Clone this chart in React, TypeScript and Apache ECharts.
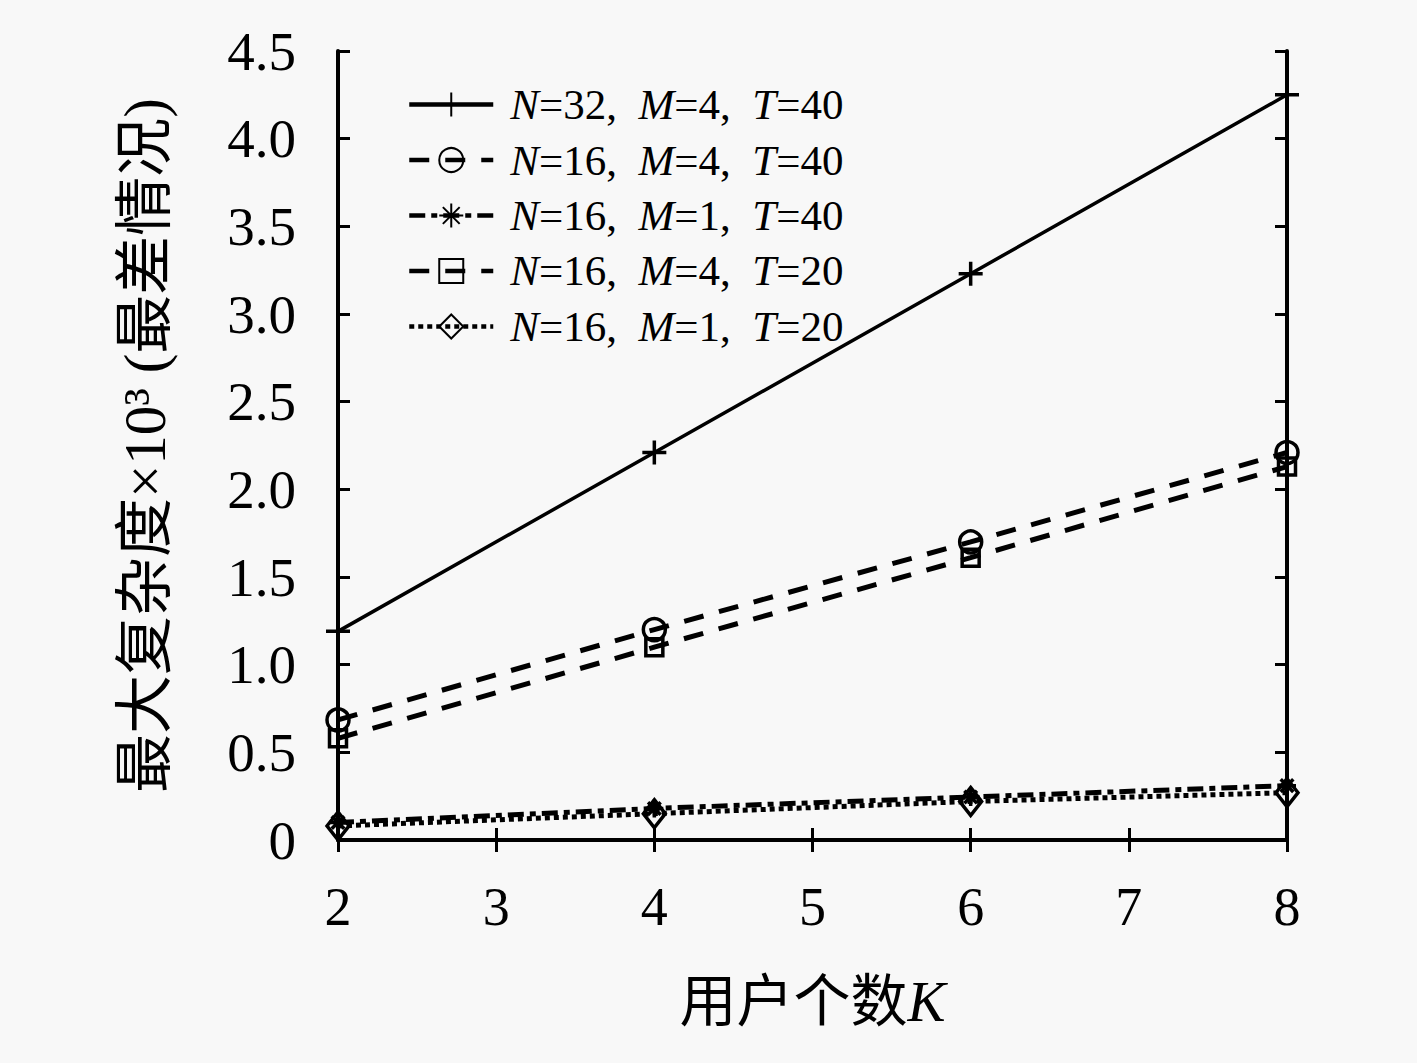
import React, { useEffect, useRef } from "react";
import * as echarts from "echarts";

const users = [2, 4, 6, 8];
const xTicks = [2, 3, 4, 5, 6, 7, 8];
const yTickLabels = ["0", "0.5", "1.0", "1.5", "2.0", "2.5", "3.0", "3.5", "4.0", "4.5"];

const seriesNames = [
  "N=32,  M=4,  T=40",
  "N=16,  M=4,  T=40",
  "N=16,  M=1,  T=40",
  "N=16,  M=4,  T=20",
  "N=16,  M=1,  T=20",
];

const s1 = [1.19, 2.21, 3.23, 4.25];
const s2 = [0.685, 1.2, 1.7, 2.21];
const s3 = [0.1, 0.18, 0.245, 0.31];
const s4 = [0.58, 1.1, 1.61, 2.13];
const s5 = [0.08, 0.15, 0.22, 0.27];

const PLUS = "path://M0,5L10,5M5,0L5,10";
const STAR = "path://M0,5L10,5M5,0L5,10M1.5,1.5L8.5,8.5M1.5,8.5L8.5,1.5";

const SERIF = '"Liberation Serif", "DejaVu Serif", "Noto Sans CJK SC", serif';

function mk(name: string, vals: number[], dash: any, width: number, symbol: string, size: number | number[], z: number) {
  return {
    type: "line",
    name,
    data: users.map((k, i) => [k, vals[i]]),
    symbol,
    symbolSize: size,
    showSymbol: true,
    z,
    color: "#000",
    lineStyle: { color: "#000", width, type: dash },
    itemStyle: { color: "none", borderColor: "#000", borderWidth: 3.5 },
    emphasis: { disabled: true },
  };
}

export default function App() {
  const ref = useRef<HTMLDivElement>(null);
  useEffect(() => {
    document.body.style.margin = "0";
    const chart = echarts.init(ref.current!, null, { renderer: "svg" });
    const axisLine = { show: true, lineStyle: { color: "#000", width: 4 } };
    const tick = { show: true, inside: true, length: 12, lineStyle: { color: "#000", width: 3 } };
    chart.setOption({
      animation: false,
      backgroundColor: "#f8f8f8",
      grid: { left: 338, right: 130, top: 51, bottom: 223 },
      legend: {
        left: 402,
        top: 78,
        orient: "vertical",
        itemWidth: 84,
        itemHeight: 30,
        itemGap: 12.5,
        data: seriesNames,
        lineStyle: { width: 4.5 },
        formatter: (n: string) => n.replace(/([NMT])=/g, "{i|$1}="),
        textStyle: {
          fontFamily: SERIF,
          fontSize: 43,
          color: "#000",
          lineHeight: 41,
          padding: [0, 0, 0, 12],
          rich: { i: { fontStyle: "italic", fontFamily: SERIF, fontSize: 43, color: "#000" } },
        },
      },
      xAxis: [
        {
          type: "value",
          min: 2,
          max: 8,
          interval: 1,
          position: "bottom",
          axisLine,
          axisTick: tick,
          splitLine: { show: false },
          axisLabel: {
            margin: 40,
            fontFamily: SERIF,
            fontSize: 54,
            color: "#000",
            formatter: (v: number) => (xTicks.includes(v) ? String(v) : ""),
          },
          name: "用户个数{k|K}",
          nameLocation: "middle",
          nameGap: 133,
          nameTextStyle: {
            fontFamily: SERIF,
            fontSize: 57,
            color: "#000",
            rich: { k: { fontStyle: "italic", fontFamily: SERIF, fontSize: 57, color: "#000" } },
          },
        },
        {
          type: "value",
          min: 2,
          max: 8,
          interval: 1,
          position: "top",
          axisLine,
          axisTick: tick,
          axisLabel: { show: false },
          splitLine: { show: false },
        },
      ],
      yAxis: [
        {
          type: "value",
          min: 0,
          max: 4.5,
          interval: 0.5,
          position: "left",
          axisLine,
          axisTick: tick,
          splitLine: { show: false },
          axisLabel: {
            margin: 42,
            fontFamily: SERIF,
            fontSize: 55,
            color: "#000",
            formatter: (v: number) => yTickLabels[Math.round(v / 0.5)] ?? "",
          },
          name: "最大复杂度×10³ (最差情况)",
          nameLocation: "middle",
          nameGap: 164,
          nameTextStyle: { fontFamily: SERIF, fontSize: 59, color: "#000" },
        },
        {
          type: "value",
          min: 0,
          max: 4.5,
          interval: 0.5,
          position: "right",
          axisLine,
          axisTick: tick,
          axisLabel: { show: false },
          splitLine: { show: false },
        },
      ],
      series: [
        mk(seriesNames[0], s1, "solid", 3.5, PLUS, 24, 5),
        mk(seriesNames[1], s2, [20, 16], 5, "circle", 22, 4),
        mk(seriesNames[2], s3, [16, 6, 6, 6], 5, STAR, 18, 3),
        mk(seriesNames[3], s4, [20, 16], 5, "rect", 17, 2),
        mk(seriesNames[4], s5, [5, 4], 5, "diamond", [22, 28], 1),
      ],
    });
    return () => chart.dispose();
  }, []);
  return <div ref={ref} style={{ width: 1417, height: 1063, background: "#f8f8f8" }} />;
}
